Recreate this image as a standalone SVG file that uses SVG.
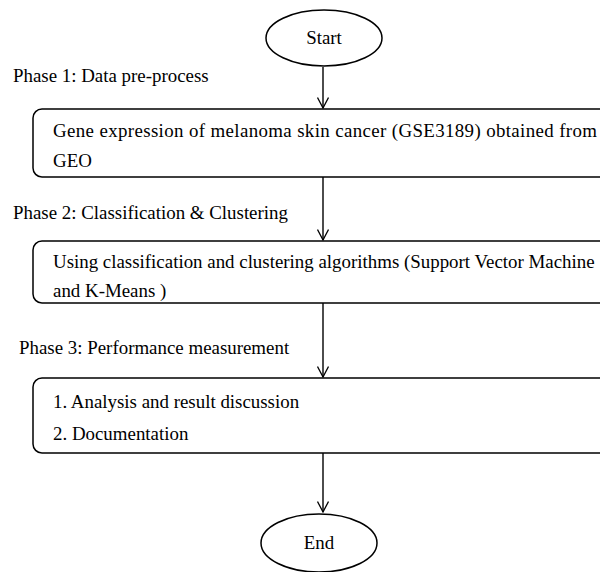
<svg xmlns="http://www.w3.org/2000/svg" width="600" height="572" viewBox="0 0 600 572">
<defs>
<marker id="ah" markerWidth="12" markerHeight="12" refX="11" refY="6" orient="auto" markerUnits="userSpaceOnUse" viewBox="0 0 12 12">
<path d="M0.5,0.5 L11,6 L0.5,11.5" fill="none" stroke="#000" stroke-width="1.3"/>
</marker>
<style>
text{font-size:18.9px;fill:#000}
.n{fill:#fff;stroke:#000;stroke-width:1.5}
.c{stroke:#000;stroke-width:1.4;fill:none;marker-end:url(#ah)}
</style>
</defs>
<rect width="600" height="572" fill="#fff"/>
<g font-family="Liberation Serif, DejaVu Serif, serif">
<g id="connectors">
<line class="c" x1="323" y1="67" x2="323" y2="108"/>
<line class="c" x1="323" y1="177" x2="323" y2="240"/>
<line class="c" x1="323" y1="303" x2="323" y2="377"/>
<line class="c" x1="323" y1="453" x2="323" y2="512"/>
</g>
<g id="start">
<ellipse class="n" cx="324" cy="38" rx="58" ry="28"/>
<text x="324" y="44" text-anchor="middle">Start</text>
</g>
<text x="13" y="82">Phase 1: Data pre-process</text>
<g id="box1">
<rect class="n" x="33" y="109" width="600" height="68" rx="9"/>
<text x="53" y="137" textLength="544" lengthAdjust="spacing">Gene expression of melanoma skin cancer (GSE3189) obtained from</text>
<text x="53" y="167">GEO</text>
</g>
<text x="13" y="219">Phase 2: Classification &amp; Clustering</text>
<g id="box2">
<rect class="n" x="33" y="241" width="600" height="62" rx="9"/>
<text x="53" y="268">Using classification and clustering algorithms (Support Vector Machine</text>
<text x="53" y="297">and K-Means )</text>
</g>
<text x="19" y="354">Phase 3: Performance measurement</text>
<g id="box3">
<rect class="n" x="33" y="378" width="600" height="75" rx="9"/>
<text x="53" y="408">1. Analysis and result discussion</text>
<text x="53" y="440">2. Documentation</text>
</g>
<g id="end">
<ellipse class="n" cx="319" cy="543" rx="58" ry="29"/>
<text x="319" y="549" text-anchor="middle">End</text>
</g>
</g>
</svg>
